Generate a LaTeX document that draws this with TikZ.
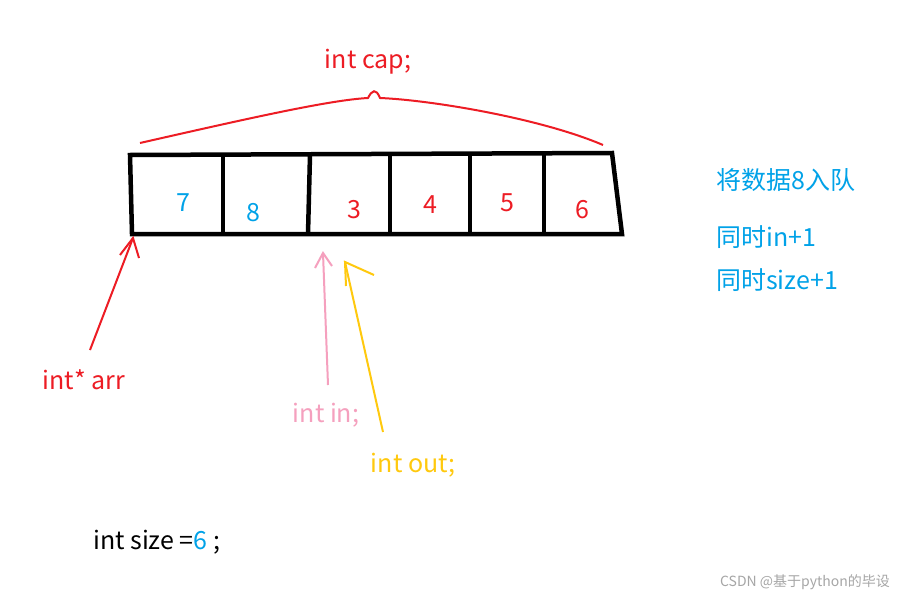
\documentclass[tikz,border=0pt]{standalone}
\usepackage{fontspec}
\setmainfont{Noto Sans CJK SC}
\begin{document}
\begin{tikzpicture}[x=1pt,y=-1pt,
  lbl/.style={font=\fontsize{25}{28}\selectfont,inner sep=0pt},
  box/.style={line width=4.5pt,black},
  arr/.style={line width=2pt}]
\definecolor{rd}{RGB}{237,28,36}
\definecolor{bl}{RGB}{0,162,232}
\definecolor{pk}{RGB}{245,160,190}
\definecolor{yl}{RGB}{255,201,14}
\useasboundingbox[fill=white] (0,0) rectangle (911,597);
% box
\draw[box] (130,155) -- (612,153) -- (622,234) -- (132,234) -- cycle;
\foreach \a/\b in {223/223,310/308,390/390,470/470,544/544}
  \draw[box] (\a,155) -- (\b,234);
\node[lbl,bl] (n7) at (183,203) {7};
\node[lbl,bl] (n8) at (253,213) {8};
\node[lbl,rd] (n3) at (354,210) {3};
\node[lbl,rd] (n4) at (430,205) {4};
\node[lbl,rd] (n5) at (507,203) {5};
\node[lbl,rd] (n6) at (582,210) {6};
% brace
\draw[rd,line width=2pt] (140,143) .. controls (250,118) and (330,100) .. (368,98)
  .. controls (372,90) and (376,88) .. (380,98)
  .. controls (430,100) and (540,118) .. (603,145);
\node[lbl,rd] (cap) at (368,62) {int cap;};
% arr
\node[lbl,rd] (arrl) at (84,380) {int* arr};
\coordinate (arrt) at (133,238);
\draw[rd,arr] (90,350) -- (arrt);
\draw[rd,arr] (120,255) -- (arrt) -- (139,258);
% in
\node[lbl,pk] (inl) at (326,415) {int in;};
\coordinate (int) at (323,253);
\draw[pk,arr] (328,385) -- (int);
\draw[pk,arr] (315,268) -- (int) -- (332,266);
% out
\node[lbl,yl] (outl) at (413,465) {int out;};
\coordinate (outt) at (345,262);
\draw[yl,arr] (383,432) -- (outt);
\draw[yl,arr] (346,286) -- (outt) -- (374,275);
% right texts
\node[lbl,bl,anchor=west] (t1) at (716,180) {将数据8入队};
\node[lbl,bl,anchor=west] (t2) at (716,237) {同时in+1};
\node[lbl,bl,anchor=west] (t3) at (716,280) {同时size+1};
\node[lbl,anchor=west] (sz) at (93,542) {int size =\textcolor{bl}{6} ;};
\node[font=\fontsize{14}{16}\selectfont,gray!70,inner sep=0pt] (wm) at (805,582) {CSDN @基于python的毕设};
\end{tikzpicture}
\end{document}
